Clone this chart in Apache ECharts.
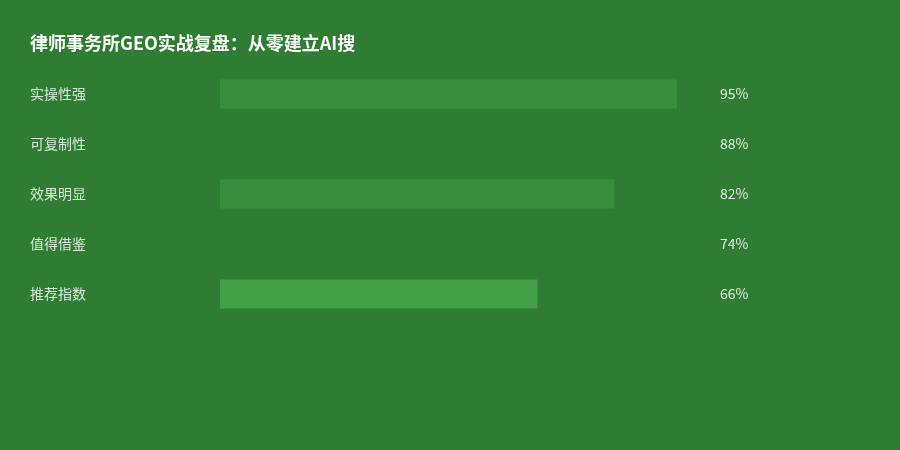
<!DOCTYPE html>
<html>
<head>
<meta charset="utf-8">
<script src="https://cdn.jsdelivr.net/npm/echarts@6/dist/echarts.min.js"></script>
<style>html,body{margin:0;padding:0;background:#2e7d32;}#c{width:900px;height:450px;}</style>
</head>
<body>
<div id="c"></div>
<script>
var titleText = '律师事务所GEO实战复盘：从零建立AI搜';
var categories = ['实操性强', '可复制性', '效果明显', '值得借鉴', '推荐指数'];
var values = [95, 88, 82, 74, 66];
var valueLabels = ['95%', '88%', '82%', '74%', '66%'];
var barColors = ['#388e3c', '#2e7d32', '#388e3c', '#2e7d32', '#43a047'];

var chart = echarts.init(document.getElementById('c'));
var font = '"Noto Sans CJK SC", "Noto Sans", sans-serif';
chart.setOption({
  backgroundColor: '#2e7d32',
  animation: false,
  title: {
    text: titleText,
    left: 25, top: 29,
    textStyle: { color: '#ffffff', fontSize: 18, fontWeight: 'bold', fontFamily: font }
  },
  grid: { left: 220, top: 69, width: 481, height: 250 },
  xAxis: {
    type: 'value', min: 0, max: 100,
    show: false
  },
  yAxis: [{
    type: 'category', data: categories, inverse: true,
    axisLine: { show: false }, axisTick: { show: false }, splitLine: { show: false },
    axisLabel: { align: 'left', margin: 190, color: 'rgba(255,255,255,0.82)', fontSize: 14, fontFamily: font }
  }, {
    type: 'category', data: valueLabels, inverse: true, position: 'right',
    axisLine: { show: false }, axisTick: { show: false }, splitLine: { show: false },
    axisLabel: { align: 'left', margin: 19, color: 'rgba(255,255,255,0.85)', fontSize: 14, fontFamily: font }
  }],
  series: [{
    type: 'bar',
    barWidth: 29,
    data: values.map(function (v, i) { return { value: v, itemStyle: { color: barColors[i] } }; })
  }]
});
</script>
</body>
</html>
